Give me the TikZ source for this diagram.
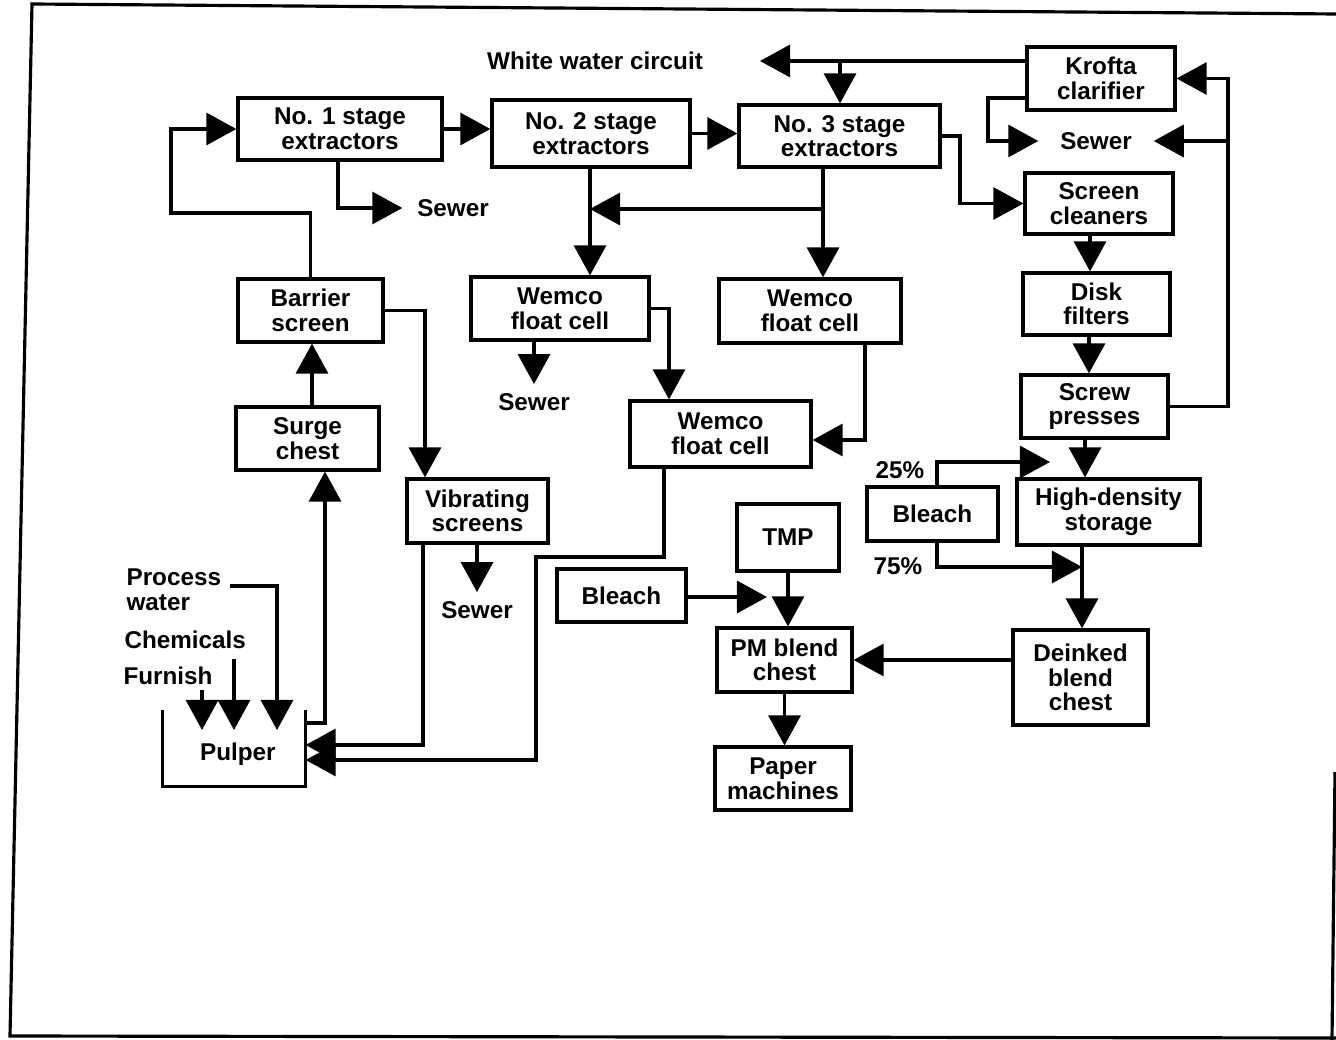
\documentclass[tikz,border=0pt]{standalone}
\usepackage{fontspec}
\setmainfont{Liberation Sans}
\usetikzlibrary{arrows.meta,calc}
\begin{document}
\begin{tikzpicture}[x=0.01cm,y=-0.01cm,
  line width=0.9pt,
  >={Triangle[length=3mm,width=3.2mm]},
  every node/.style={font=\bfseries\fontsize{6.9}{7}\selectfont},
  unit/.style={draw, inner sep=0pt, align=center},
  tag/.style={inner sep=0pt, align=left},
  sink/.style={inner xsep=3.8pt, inner ysep=2.2pt},
]
\useasboundingbox (0,0) rectangle (1336,1040);

% page frame
\draw (1336,14) -- (32,4) -- (10,1036) -- (1336,1038);
\draw (1335,772) -- (1332,1040);

% process units
\node[unit, minimum width=2.04cm, minimum height=0.62cm] (no1) at (340,129) {No. 1 stage\\extractors};
\node[unit, minimum width=1.98cm, minimum height=0.67cm] (no2) at (591,133.5) {No. 2 stage\\extractors};
\node[unit, minimum width=2.01cm, minimum height=0.62cm] (no3) at (839.5,136) {No. 3 stage\\extractors};
\node[unit, minimum width=1.48cm, minimum height=0.63cm] (krofta) at (1101,78.5) {Krofta\\clarifier};
\node[unit, minimum width=1.48cm, minimum height=0.61cm] (screen) at (1099,203.5) {Screen\\cleaners};
\node[unit, minimum width=1.47cm, minimum height=0.62cm] (disk) at (1096.5,304) {Disk\\filters};
\node[unit, minimum width=1.47cm, minimum height=0.63cm] (screw) at (1094.5,406.5) {Screw\\presses};
\node[unit, minimum width=1.83cm, minimum height=0.66cm] (hd) at (1108.5,512) {High-density\\storage};
\node[unit, minimum width=1.31cm, minimum height=0.54cm] (bleachR) at (932.5,514) {Bleach};
\node[unit, minimum width=1.35cm, minimum height=0.95cm] (deinked) at (1080.5,677.5) {Deinked\\blend\\chest};
\node[unit, minimum width=1.35cm, minimum height=0.64cm] (pm) at (784.5,660) {PM blend\\chest};
\node[unit, minimum width=1.02cm, minimum height=0.67cm] (tmp) at (788,537.5) {TMP};
\node[unit, minimum width=1.29cm, minimum height=0.53cm] (bleachM) at (621.5,595.5) {Bleach};
\node[unit, minimum width=1.36cm, minimum height=0.63cm] (paper) at (783,778.5) {Paper\\machines};
\node[unit, minimum width=1.78cm, minimum height=0.63cm] (wemco2) at (560,308.5) {Wemco\\float cell};
\node[unit, minimum width=1.82cm, minimum height=0.64cm] (wemco3) at (810,311) {Wemco\\float cell};
\node[unit, minimum width=1.81cm, minimum height=0.66cm] (wemco4) at (720.5,434) {Wemco\\float cell};
\node[unit, minimum width=1.45cm, minimum height=0.63cm] (barrier) at (310.5,310.5) {Barrier\\screen};
\node[unit, minimum width=1.43cm, minimum height=0.63cm] (surge) at (307.5,438.5) {Surge\\chest};
\node[unit, minimum width=1.41cm, minimum height=0.64cm] (vib) at (477.5,511) {Vibrating\\screens};

% pulper: open-top vessel, name set low inside it
\node[minimum width=1.40cm, minimum height=0.73cm, inner sep=0pt,
      label={[inner sep=0pt, xshift=1.1pt, yshift=-1.6pt]center:Pulper}] (pulper) at (234,748.5) {};
\draw (pulper.north west) -- (pulper.south west) -- (pulper.south east) -- (pulper.north east);

% sewers and labels
\node[sink] (sw1) at (453,208) {Sewer};
\node[sink] (sw2) at (534,402) {Sewer};
\node[sink] (sw3) at (477,610) {Sewer};
\node[sink, inner xsep=5.8pt] (swk) at (1096,141) {Sewer};
\node[inner sep=0pt] (ww) at (595,61) {White water circuit};
\node[inner sep=0pt] (p25) at (900,470) {25\%};
\node[inner sep=0pt] (p75) at (898,566) {75\%};
\node[tag, anchor=west] (procw) at (125,590) {Process\\water};
\node[tag, anchor=west] (chem) at (123,640) {Chemicals};
\node[tag, anchor=west] (furn) at (122,676) {Furnish};

% extraction line
\draw[->] (barrier.north) |- (171,213) |- (no1.west);
\draw[->] (no1.east) -- (no1.east -| no2.west);
\draw[->] (no2.east) -- (no2.east -| no3.west);
\draw[->] (338,0 |- no1.south) |- (sw1.west);
\draw[->] (590,0 |- no2.south) -- (590,0 |- wemco2.north);
\draw[->] (823,0 |- no3.south) -- (823,0 |- wemco3.north);
\coordinate (j3) at (823,209);
\draw[->] (j3) -- (j3 -| 590,0);

% white water circuit
\coordinate (wwtip) at (760,61);
\draw[->] (krofta.west |- wwtip) -- (wwtip);
\draw[->] (840,61) -- (840,0 |- no3.north);
\draw[->] (krofta.west |- 0,98) -| (988,0 |- swk.west) -- (swk.west);
\draw[->] (screw.east) -- (1228,0 |- screw.east) -- (1228,0 |- krofta.east) -- (krofta.east);
\draw[->] (1228,0 |- swk.east) -- (swk.east);

% cleaning and thickening
\draw[->] (no3.east) -| (960,0 |- screen.west) -- (screen.west);
\draw[->] (1090,0 |- screen.south) -- (1090,0 |- disk.north);
\draw[->] (1089,0 |- disk.south) -- (1089,0 |- screw.north);
\draw[->] (1085,0 |- screw.south) -- (1085,0 |- hd.north);
\coordinate (t25) at (1050,462);
\draw[->] (937,0 |- bleachR.north) |- (t25);
\coordinate (t75) at (1082,567);
\draw[->] (937,0 |- bleachR.south) |- (t75);
\draw[->] (1082,0 |- hd.south) -- (1082,0 |- deinked.north);
\draw[->] (deinked.west |- pm.east) -- (pm.east);
\draw[->] (tmp.south) -- (tmp.south |- pm.north);
\coordinate (bmtip) at (767,597);
\draw[->] (bleachM.east |- bmtip) -- (bmtip);
\draw[->] (pm.south) -- (pm.south |- paper.north);

% flotation
\draw[->] (wemco2.east) -| (669,0 |- wemco4.north);
\draw[->] (534,0 |- wemco2.south) -- (sw2.north);
\draw[->] (865,0 |- wemco3.south) |- ($(wemco4.east)+(0,6)$);
\draw[->] (664,0 |- wemco4.south) |- (536,557) |- (pulper.east |- 0,760);

% pulping and screening
\draw[->] (423,0 |- vib.south) |- (pulper.east |- 0,745);
\draw[->] (pulper.east |- 0,723) -| (325,0 |- surge.south);
\draw[->] (312,0 |- surge.north) -- (312,0 |- barrier.south);
\draw[->] (barrier.east) -| (425,0 |- vib.north);
\draw[->] (477,0 |- vib.south) -- (sw3.north);

% pulper inputs
\coordinate (pwstart) at (230,586);
\coordinate (chstart) at (234,659);
\coordinate (fustart) at (202,690);
\coordinate (inA) at (202,730);
\coordinate (inB) at (234,730);
\coordinate (inC) at (277,730);
\draw[->] (pwstart) -| (inC);
\draw[->] (chstart) -- (inB);
\draw[->] (fustart) -- (inA);
\end{tikzpicture}
\end{document}
